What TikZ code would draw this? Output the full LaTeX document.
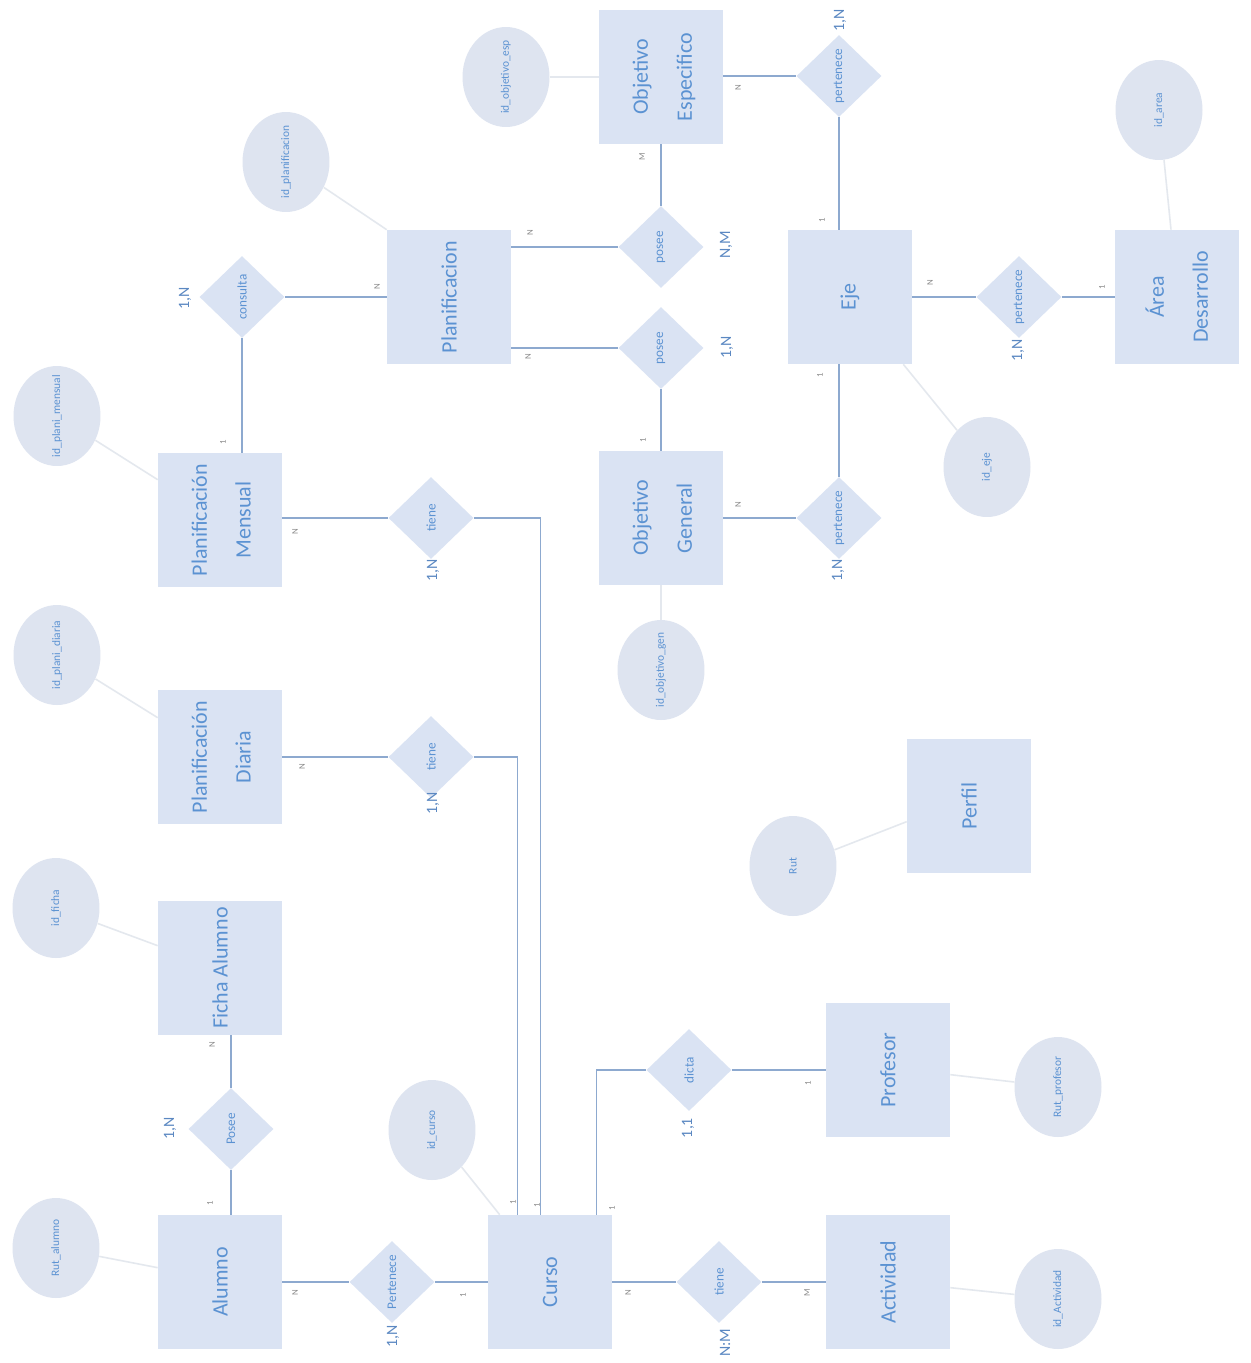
\documentclass[tikz,border=0pt]{standalone}
\usepackage{fontspec}
\setmainfont{Carlito}
\usepackage{graphicx}
\usetikzlibrary{shapes.geometric,calc}
\definecolor{efill}{HTML}{DAE3F3}
\definecolor{afill}{HTML}{DEE4F0}
\definecolor{etext}{HTML}{5B92D2}
\definecolor{lline}{HTML}{8DA9CF}
\definecolor{aline}{HTML}{E4E8EE}
\definecolor{ctext}{HTML}{5B88C2}
\definecolor{stext}{HTML}{8A8A8A}
\newcommand{\vtxt}[1]{\raisebox{-0.5\height}[0pt][0pt]{\rotatebox{90}{#1}}}
\newcommand{\twol}[2]{\vtxt{\begin{tabular}{@{}c@{}}#1\\#2\end{tabular}}}
\tikzset{
  entity/.style={rectangle, fill=efill, minimum width=2.48cm, minimum height=2.68cm, inner sep=0pt, text=etext, font=\fontsize{12.5}{25}\selectfont},
  rel/.style={diamond, fill=efill, minimum width=1.7cm, minimum height=1.64cm, inner sep=0pt, text=etext, font=\fontsize{7.5}{9}\selectfont},
  attr/.style={ellipse, fill=afill, minimum width=1.74cm, minimum height=2cm, inner sep=0pt, text=etext, font=\fontsize{6.5}{8}\selectfont},
  conn/.style={draw=lline, line width=0.8pt},
  aconn/.style={draw=aline, line width=0.9pt},
  card/.style={text=ctext, inner sep=0pt, font=\fontsize{9}{10}\selectfont},
  scard/.style={text=stext, inner sep=0pt, font=\fontsize{5}{6}\selectfont}
}
\begin{document}
\begin{tikzpicture}[x=0.02cm,y=-0.02cm]
\fill[white] (0,0) rectangle (1251,1363);
% entities
\node[entity] (alumno) at (220,1282) {\vtxt{Alumno}};
\node[entity] (curso) at (550,1282) {\vtxt{Curso}};
\node[entity] (actividad) at (888,1282) {\vtxt{Actividad}};
\node[entity] (profesor) at (888,1070) {\vtxt{Profesor}};
\node[entity] (ficha) at (220,968) {\vtxt{Ficha Alumno}};
\node[entity] (pdiaria) at (220,757) {\twol{Planificación}{Diaria}};
\node[entity] (pmensual) at (220,520) {\twol{Planificación}{Mensual}};
\node[entity] (planif) at (449,297) {\vtxt{Planificacion}};
\node[entity] (objesp) at (661,77) {\twol{Objetivo}{Especifico}};
\node[entity] (objgen) at (661,518) {\twol{Objetivo}{General}};
\node[entity] (eje) at (850,297) {\vtxt{Eje}};
\node[entity] (area) at (1177,297) {\twol{Área}{Desarrollo}};
\node[entity] (perfil) at (969,806) {\vtxt{Perfil}};
% relationships
\node[rel] (dpert) at (392,1282) {\vtxt{Pertenece}};
\node[rel] (dposee) at (231,1129) {\vtxt{Posee}};
\node[rel] (dtieneA) at (719,1282) {\vtxt{tiene}};
\node[rel] (ddicta) at (689,1070) {\vtxt{dicta}};
\node[rel] (dtieneD) at (431,757) {\vtxt{tiene}};
\node[rel] (dtieneM) at (431,518) {\vtxt{tiene}};
\node[rel] (dcons) at (242,297) {\vtxt{consulta}};
\node[rel] (dposeeE) at (661,247) {\vtxt{posee}};
\node[rel] (dposeeG) at (661,348) {\vtxt{posee}};
\node[rel] (dpertE) at (839,76) {\vtxt{pertenece}};
\node[rel] (dpertA) at (1019,297) {\vtxt{pertenece}};
\node[rel] (dpertG) at (839,518) {\vtxt{pertenece}};
% attributes
\node[attr] (aplanif) at (286,162) {\vtxt{id\_planificacion}};
\node[attr] (aobjesp) at (506,77) {\vtxt{id\_objetivo\_esp}};
\node[attr] (aarea) at (1159,110) {\vtxt{id\_area}};
\node[attr] (apmens) at (57,416) {\vtxt{id\_plani\_mensual}};
\node[attr] (apdiar) at (57,655) {\vtxt{id\_plani\_diaria}};
\node[attr] (aficha) at (56,908) {\vtxt{id\_ficha}};
\node[attr] (arutal) at (56,1248) {\vtxt{Rut\_alumno}};
\node[attr] (acurso) at (432,1130) {\vtxt{id\_curso}};
\node[attr] (aobjgen) at (661,670) {\vtxt{id\_objetivo\_gen}};
\node[attr] (aeje) at (987,467) {\vtxt{id\_eje}};
\node[attr] (arut) at (793,866) {\vtxt{Rut}};
\node[attr] (arutprof) at (1058,1087) {\vtxt{Rut\_profesor}};
\node[attr] (aactiv) at (1058,1299) {\vtxt{id\_Actividad}};
% attribute lines
\draw[aconn] (aplanif) -- (planif.north west);
\draw[aconn] (aobjesp) -- (objesp.west);
\draw[aconn] (aarea) -- ($(area.north)+(-6,0)$);
\draw[aconn] (apmens) -- ($(pmensual.north west)+(0,27)$);
\draw[aconn] (apdiar) -- ($(pdiaria.north west)+(0,28)$);
\draw[aconn] (aficha) -- ($(ficha.north west)+(0,45)$);
\draw[aconn] (arutal) -- ($(alumno.north west)+(0,53)$);
\draw[aconn] (acurso) -- ($(curso.north west)+(12,0)$);
\draw[aconn] (aobjgen) -- (objgen.south);
\draw[aconn] (aeje) -- ($(eje.south east)+(-9,0)$);
\draw[aconn] (arut) -- ($(perfil.north west)+(0,83)$);
\draw[aconn] (arutprof) -- ($(profesor.north east)+(0,72)$);
\draw[aconn] (aactiv) -- ($(actividad.north east)+(0,73)$);
% relationship lines
\draw[conn] (alumno.east) -- (dpert.west);
\draw[conn] (dpert.east) -- (curso.west);
\draw[conn] (dposee.south) -- (dposee.south |- alumno.north);
\draw[conn] (dposee.north) -- (dposee.north |- ficha.south);
\draw[conn] (curso.east) -- (dtieneA.west);
\draw[conn] (dtieneA.east) -- (actividad.west);
\draw[conn] (ddicta.west) -| ($(curso.north west)+(109,0)$);
\draw[conn] (ddicta.east) -- (profesor.west);
\draw[conn] (dtieneD.west -| pdiaria.east) -- (dtieneD.west);
\draw[conn] (dtieneD.east) -| ($(curso.north west)+(30,0)$);
\draw[conn] (dtieneM.west -| pmensual.east) -- (dtieneM.west);
\draw[conn] (dtieneM.east) -| ($(curso.north west)+(53,0)$);
\draw[conn] (dcons.east) -- (planif.west);
\draw[conn] (dcons.south) -- (dcons.south |- pmensual.north);
\draw[conn] (dposeeE.west) -- (dposeeE.west -| planif.east);
\draw[conn] (dposeeE.north) -- (objesp.south);
\draw[conn] (dposeeG.west) -- (dposeeG.west -| planif.east);
\draw[conn] (dposeeG.south) -- (objgen.north);
\draw[conn] (dpertE.west -| objesp.east) -- (dpertE.west);
\draw[conn] (dpertE.south) -- (dpertE.south |- eje.north);
\draw[conn] (eje.east) -- (dpertA.west);
\draw[conn] (dpertA.east) -- (area.west);
\draw[conn] (objgen.east) -- (dpertG.west);
\draw[conn] (dpertG.north) -- (dpertG.north |- eje.south);
% cardinalities
\node[scard] (c1) at (210,1203) {\vtxt{1}};
\node[scard] (c2) at (212,1045) {\vtxt{N}};
\node[card] (c3) at (170,1128) {\vtxt{1,N}};
\node[scard] (c4) at (295,1293) {\vtxt{N}};
\node[card] (c5) at (393,1336) {\vtxt{1,N}};
\node[scard] (c6) at (463,1295) {\vtxt{1}};
\node[scard] (c7) at (628,1293) {\vtxt{N}};
\node[scard] (c8) at (807,1293) {\vtxt{M}};
\node[card] (c9) at (725,1343) {\vtxt{N:M}};
\node[scard] (c10) at (808,1083) {\vtxt{1}};
\node[card] (c11) at (688,1128) {\vtxt{1,1}};
\node[scard] (c12) at (612,1208) {\vtxt{1}};
\node[scard] (c13) at (513,1202) {\vtxt{1}};
\node[scard] (c14) at (537,1205) {\vtxt{1}};
\node[scard] (c15) at (302,767) {\vtxt{N}};
\node[card] (c16) at (433,803) {\vtxt{1,N}};
\node[scard] (c17) at (295,532) {\vtxt{N}};
\node[card] (c18) at (433,570) {\vtxt{1,N}};
\node[card] (c19) at (185,298) {\vtxt{1,N}};
\node[scard] (c20) at (377,287) {\vtxt{N}};
\node[scard] (c21) at (223,442) {\vtxt{1}};
\node[scard] (c22) at (530,233) {\vtxt{N}};
\node[card] (c23) at (726,245) {\vtxt{N,M}};
\node[scard] (c24) at (642,157) {\vtxt{M}};
\node[scard] (c25) at (528,357) {\vtxt{N}};
\node[card] (c26) at (727,347) {\vtxt{1,N}};
\node[scard] (c27) at (643,440) {\vtxt{1}};
\node[scard] (c28) at (738,88) {\vtxt{N}};
\node[card] (c29) at (840,20) {\vtxt{1,N}};
\node[scard] (c30) at (822,220) {\vtxt{1}};
\node[scard] (c31) at (930,283) {\vtxt{N}};
\node[scard] (c32) at (1102,287) {\vtxt{1}};
\node[card] (c33) at (1018,350) {\vtxt{1,N}};
\node[scard] (c34) at (738,505) {\vtxt{N}};
\node[scard] (c35) at (820,375) {\vtxt{1}};
\node[card] (c36) at (838,570) {\vtxt{1,N}};
\end{tikzpicture}
\end{document}
